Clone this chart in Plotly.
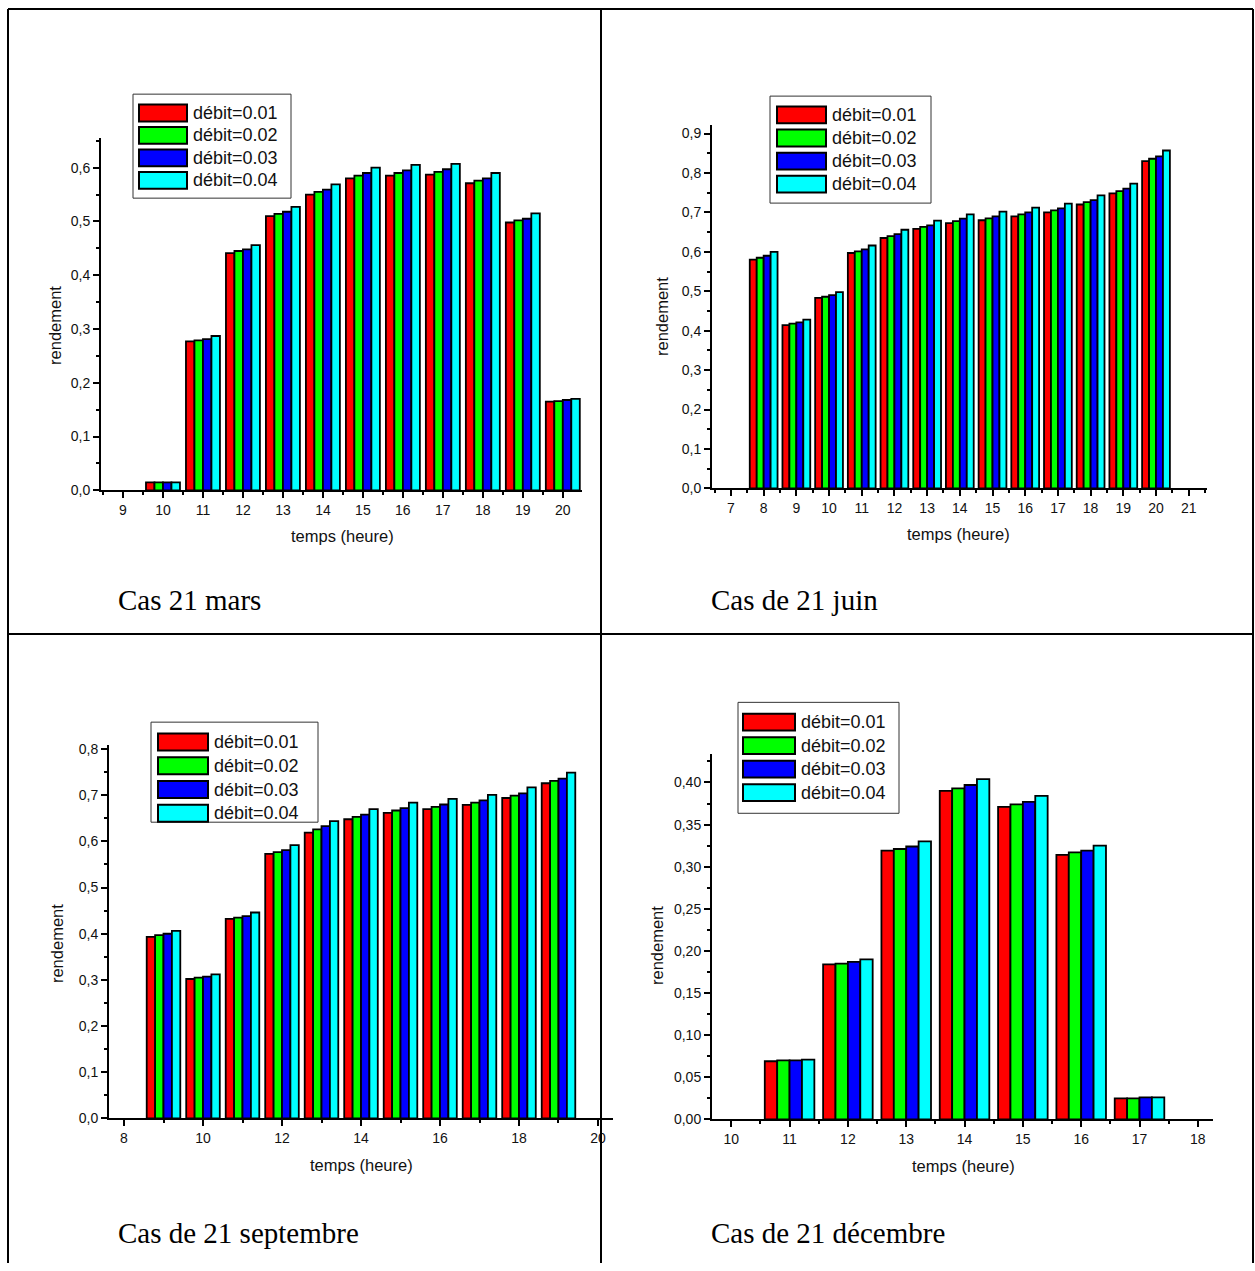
import plotly.graph_objects as go

W, H = 1255, 1271


def px(x):
    return x / W


def py(y):
    return 1 - y / H


# ---------------- data ----------------
series_names = ["débit=0.01", "débit=0.02", "débit=0.03", "débit=0.04"]
series_colors = ["#FF0000", "#00FF00", "#0000FF", "#00FFFF"]

hours_mars = [10, 11, 12, 13, 14, 15, 16, 17, 18, 19, 20]
mars_d001 = [0.015, 0.277, 0.441, 0.510, 0.550, 0.580, 0.585, 0.587, 0.571, 0.498, 0.165]
mars_d002 = [0.015, 0.279, 0.445, 0.514, 0.555, 0.585, 0.590, 0.592, 0.576, 0.502, 0.166]
mars_d003 = [0.015, 0.281, 0.448, 0.518, 0.559, 0.590, 0.595, 0.597, 0.580, 0.505, 0.168]
mars_d004 = [0.015, 0.287, 0.456, 0.527, 0.569, 0.600, 0.605, 0.607, 0.590, 0.515, 0.170]

hours_juin = [8, 9, 10, 11, 12, 13, 14, 15, 16, 17, 18, 19, 20]
juin_d001 = [0.580, 0.414, 0.483, 0.597, 0.635, 0.658, 0.673, 0.680, 0.690, 0.700, 0.720, 0.748, 0.830]
juin_d002 = [0.585, 0.418, 0.486, 0.601, 0.640, 0.663, 0.678, 0.685, 0.695, 0.705, 0.726, 0.754, 0.836]
juin_d003 = [0.590, 0.421, 0.490, 0.606, 0.645, 0.667, 0.684, 0.690, 0.700, 0.710, 0.731, 0.760, 0.842]
juin_d004 = [0.600, 0.428, 0.498, 0.616, 0.656, 0.679, 0.695, 0.702, 0.712, 0.722, 0.743, 0.773, 0.857]

hours_sept = [9, 10, 11, 12, 13, 14, 15, 16, 17, 18, 19]
sept_d001 = [0.393, 0.302, 0.432, 0.573, 0.619, 0.648, 0.662, 0.670, 0.679, 0.694, 0.726]
sept_d002 = [0.397, 0.305, 0.435, 0.577, 0.626, 0.653, 0.667, 0.675, 0.684, 0.699, 0.731]
sept_d003 = [0.400, 0.307, 0.438, 0.581, 0.633, 0.658, 0.672, 0.680, 0.689, 0.704, 0.736]
sept_d004 = [0.406, 0.312, 0.446, 0.592, 0.644, 0.670, 0.684, 0.692, 0.701, 0.717, 0.749]

hours_dec = [11, 12, 13, 14, 15, 16, 17]
dec_d001 = [0.069, 0.184, 0.319, 0.390, 0.371, 0.314, 0.025]
dec_d002 = [0.070, 0.185, 0.321, 0.393, 0.374, 0.317, 0.025]
dec_d003 = [0.070, 0.187, 0.324, 0.397, 0.377, 0.319, 0.026]
dec_d004 = [0.071, 0.190, 0.330, 0.404, 0.384, 0.325, 0.026]

captions = ["Cas 21 mars", "Cas de 21 juin", "Cas de 21 septembre", "Cas de 21 décembre"]
x_title = "temps (heure)"
y_title = "rendement"

# ---------------- layout description ----------------
panels = [
    dict(hours=hours_mars, series=[mars_d001, mars_d002, mars_d003, mars_d004],
         xpx=(101, 582), ypx=(491, 135), xr=(8.45, 20.48), yr=(0, 0.6556),
         xtick0=9, xdtick=1, xminor=0.5, ydtick=0.1, yminor=0.05, yfmt=".1f",
         ytitle=(55, 325), xtitle=(342, 537), cap=(116, 602),
         leg=(133, 91, 291, 196, 139, 187, 110, 22.7, 192)),
    dict(hours=hours_juin, series=[juin_d001, juin_d002, juin_d003, juin_d004],
         xpx=(712, 1207), ypx=(489, 122), xr=(6.42, 21.56), yr=(0, 0.922),
         xtick0=7, xdtick=1, xminor=0.5, ydtick=0.1, yminor=0.05, yfmt=".1f",
         ytitle=(662, 316), xtitle=(958, 535), cap=(709, 602),
         leg=(770, 93, 931, 201, 777, 826, 112, 23.3, 831)),
    dict(hours=hours_sept, series=[sept_d001, sept_d002, sept_d003, sept_d004],
         xpx=(109, 613), ypx=(1125, 748), xr=(7.62, 20.38), yr=(0, 0.809),
         xtick0=8, xdtick=2, xminor=1, ydtick=0.1, yminor=0.05, yfmt=".1f",
         ytitle=(57, 948), xtitle=(361, 1172), cap=(116, 1241),
         leg=(151, 725, 318, 826, 158, 208, 745, 24.0, 213)),
    dict(hours=hours_dec, series=[dec_d001, dec_d002, dec_d003, dec_d004],
         xpx=(712, 1213), ypx=(1126, 757), xr=(9.67, 18.26), yr=(0, 0.434),
         xtick0=10, xdtick=1, xminor=0.5, ydtick=0.05, yminor=0.025, yfmt=".2f",
         ytitle=(657, 951), xtitle=(963, 1173), cap=(709, 1241),
         leg=(738, 705, 899, 817, 743, 795, 725, 23.7, 800)),
]

fig = go.Figure()
shapes = []
annotations = []
sans = "Liberation Sans, Arial, sans-serif"
tickfont = dict(family=sans, size=14, color="#111")

for i, p in enumerate(panels):
    n = "" if i == 0 else str(i + 1)
    xa, ya = "x" + n, "y" + n
    for name, color, vals in zip(series_names, series_colors, p["series"]):
        fig.add_trace(go.Bar(
            x=p["hours"], y=vals, name=name, showlegend=False,
            marker=dict(color=color, line=dict(color="black", width=1.8)),
            xaxis=xa, yaxis=ya,
        ))
    fig.layout["xaxis" + n] = dict(
        domain=[px(p["xpx"][0]), px(p["xpx"][1])], anchor=ya, range=list(p["xr"]),
        tickmode="linear", tick0=p["xtick0"], dtick=p["xdtick"],
        ticks="outside", ticklen=6, tickwidth=2, tickcolor="black",
        minor=dict(ticks="outside", ticklen=3, tickwidth=2, tickcolor="black",
                   tickmode="linear", tick0=p["xtick0"], dtick=p["xminor"]),
        showline=True, linewidth=2, linecolor="black",
        showgrid=False, zeroline=False, tickfont=tickfont, fixedrange=True,
    )
    fig.layout["yaxis" + n] = dict(
        domain=[py(p["ypx"][0]), py(p["ypx"][1])], anchor=xa, range=list(p["yr"]),
        tickmode="linear", tick0=0, dtick=p["ydtick"], tickformat=p["yfmt"],
        ticks="outside", ticklen=6, tickwidth=2, tickcolor="black",
        minor=dict(ticks="outside", ticklen=3, tickwidth=2, tickcolor="black",
                   tickmode="linear", tick0=0, dtick=p["yminor"]),
        showline=True, linewidth=2, linecolor="black",
        showgrid=False, zeroline=False, tickfont=tickfont, fixedrange=True,
    )
    # axis titles
    annotations.append(dict(text=y_title, x=px(p["ytitle"][0]), y=py(p["ytitle"][1]),
                            xref="paper", yref="paper", showarrow=False, textangle=-90,
                            font=dict(family=sans, size=16.5, color="#111"),
                            xanchor="center", yanchor="middle"))
    annotations.append(dict(text=x_title, x=px(p["xtitle"][0]), y=py(p["xtitle"][1]),
                            xref="paper", yref="paper", showarrow=False,
                            font=dict(family=sans, size=16.5, color="#111"),
                            xanchor="center", yanchor="middle"))
    # caption
    annotations.append(dict(text=captions[i], x=px(p["cap"][0]), y=py(p["cap"][1]),
                            xref="paper", yref="paper", showarrow=False,
                            font=dict(family="Liberation Serif, Times New Roman, serif", size=29, color="black"),
                            xanchor="left", yanchor="middle"))
    # legend box
    bx0, by0, bx1, by1, sx0, sx1, yc0, ystep, tx = p["leg"]
    shapes.append(dict(type="rect", xref="paper", yref="paper",
                       x0=px(bx0), x1=px(bx1), y0=py(by0), y1=py(by1),
                       line=dict(color="#333", width=1), fillcolor="white", layer="above"))
    for k, (name, color) in enumerate(zip(series_names, series_colors)):
        yc = yc0 + k * ystep
        shapes.append(dict(type="rect", xref="paper", yref="paper",
                           x0=px(sx0), x1=px(sx1), y0=py(yc - 8.5), y1=py(yc + 8.5),
                           line=dict(color="black", width=2), fillcolor=color, layer="above"))
        annotations.append(dict(text=name, x=px(tx - 1), y=py(yc), xref="paper", yref="paper",
                                showarrow=False, xanchor="left", yanchor="middle",
                                font=dict(family=sans, size=18, color="#111")))

# table borders
border = dict(color="black", width=2)
for x0, y0, x1, y1 in [(8, 5, 1253, 5), (8, 5, 8, 1271), (1253, 5, 1253, 1271),
                       (601, 5, 601, 1271), (8, 636, 1253, 636)]:
    shapes.append(dict(type="line", xref="paper", yref="paper",
                       x0=px(x0), x1=px(x1), y0=py(y0), y1=py(y1), line=border, layer="above"))

fig.update_layout(
    width=W, height=H, margin=dict(l=0, r=0, t=0, b=0), autosize=False,
    paper_bgcolor="white", plot_bgcolor="white",
    barmode="group", bargap=0.15, bargroupgap=0,
    separators=", ", showlegend=False,
    shapes=shapes, annotations=annotations,
)

fig.write_html("out.html", config={"displayModeBar": False})
